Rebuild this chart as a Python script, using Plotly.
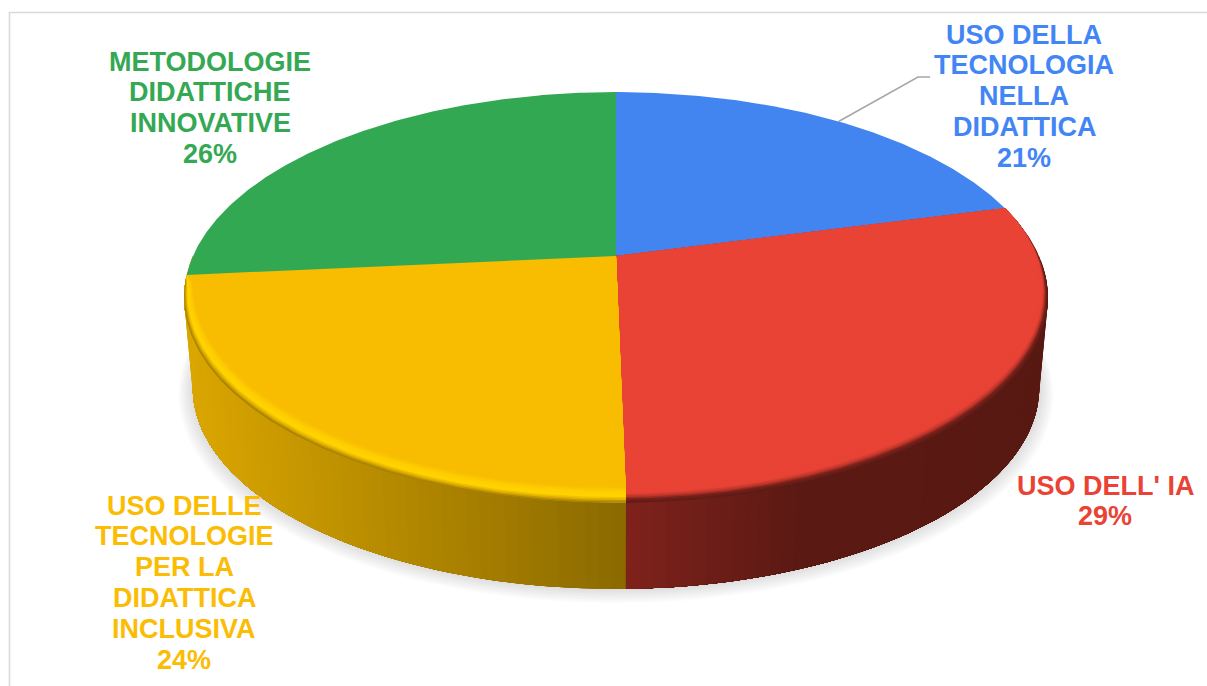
import numpy as np
import plotly.graph_objects as go

# --- data ---
categories = ["USO DELLA TECNOLOGIA NELLA DIDATTICA", "USO DELL' IA",
              "USO DELLE TECNOLOGIE PER LA DIDATTICA INCLUSIVA",
              "METODOLOGIE DIDATTICHE INNOVATIVE"]
values = [20.9, 28.8, 23.8, 26.5]
percent_labels = ["21%", "29%", "24%", "26%"]
label_lines = [["USO DELLA", "TECNOLOGIA", "NELLA", "DIDATTICA"],
               ["USO DELL' IA"],
               ["USO DELLE", "TECNOLOGIE", "PER LA", "DIDATTICA", "INCLUSIVA"],
               ["METODOLOGIE", "DIDATTICHE", "INNOVATIVE"]]
colors = ["#4285F0", "#E84335", "#F8BC00", "#32A852"]
text_colors = ["#4285F4", "#EA4335", "#FBBC04", "#34A853"]

# --- layout of the drawing ---
W, H = 1207, 686
CX, CY, A, B, K = 616.0, 256.0, 423.0, 197.0, -0.202
LOW_S, LOW_CY = 0.98, 347.0
LABEL_POS = [(1024, 44), (1105, 495), (184, 515), (210, 71)]  # centre x, first baseline y
LINE_H = 30.8
FONT = "Liberation Sans, Arial, sans-serif"
FONT_SIZE = 27


def project(theta_deg, r=1.0, s=1.0, cy=CY):
    t = np.radians(theta_deg)
    u, v = r * np.sin(t), -r * np.cos(t)
    d = 1 + K * v
    return CX + s * A * u / d, cy + s * B * v / d


def lerp_color(stops, x):
    xs = [p[0] for p in stops]
    return "rgb(%d,%d,%d)" % tuple(np.interp(x, xs, [p[1][i] for p in stops]) for i in range(3))


fig = go.Figure()


def poly(x, y, color):
    fig.add_trace(go.Scatter(x=list(x), y=list(y), mode="lines", fill="toself", fillcolor=color,
                             line=dict(width=0), hoverinfo="skip", showlegend=False))


# slice angle boundaries
frac = np.cumsum(values) / np.sum(values)
ends = 360 * frac
starts = np.concatenate([[0], ends[:-1]])

# soft shadow under the pie
full = np.linspace(0, 360, 241)
for t, g in zip(np.linspace(1, 0, 10), np.linspace(252, 220, 10)):
    x, y = project(full, s=LOW_S * (1 + 0.034 * t), cy=LOW_CY + 6 * t)
    poly(x, y, "rgb(%d,%d,%d)" % (g, g, g))

# side wall: each band runs on under the next, so no seams show
YELLOW_WALL = [(190, (218, 166, 0)), (625, (139, 106, 0))]
RED_WALL = [(625, (128, 34, 28)), (800, (92, 26, 20)), (1050, (88, 25, 18))]
for i, (a0, a1) in enumerate(zip(starts, ends)):
    lo, hi = max(a0, 90.0), min(a1, 270.0)
    if hi <= lo:
        continue
    n = int(np.ceil((hi - lo) / 1.5))
    edges = np.linspace(lo, hi, n + 1)
    stops = RED_WALL if i == 1 else YELLOW_WALL
    for e0, e1 in zip(edges[:-1], edges[1:]):
        th = np.linspace(e0, e1, 3)
        col = lerp_color(stops, project(th)[0].mean())
        th_far = np.linspace(e0, hi, max(3, int((hi - e0) / 2) + 2))
        xt, yt = project(th_far)
        xb, yb = project(th_far, s=LOW_S, cy=LOW_CY)
        poly(np.r_[xt, xb[::-1]], np.r_[yt, yb[::-1]], col)

# top surface with bevel on the front slices
BEVEL = {1: [(0.0, (96, 28, 22)), (0.18, (120, 32, 26)), (0.36, (190, 55, 44)), (0.55, (232, 67, 53)), (1.0, (232, 67, 53))],
         2: [(0.0, (168, 130, 0)), (0.18, (226, 176, 0)), (0.36, (255, 212, 0)), (0.65, (255, 206, 0)), (1.0, (248, 188, 0))]}
for i, (a0, a1) in enumerate(zip(starts, ends)):
    th = np.linspace(a0, a1, max(int(a1 - a0) * 2, 8) + 1)
    x, y = project(th)
    if i in BEVEL:
        rad = np.radians(th)
        u, v = np.sin(rad), -np.cos(rad)
        v_end = min(v[0], v[-1])
        w = np.sqrt(np.clip((v + 0.35) / 1.35, 0, 1)) * np.clip((v - v_end) / 0.08, 0, 1)
        for t in np.linspace(0, 1, 12):
            px = x - 14 * t * w * u
            py = y - 16 * t * w
            poly(np.r_[CX, px, CX], np.r_[CY, py, CY], lerp_color(BEVEL[i], t))
    else:
        poly(np.r_[CX, x, CX], np.r_[CY, y, CY], colors[i])

# leader line of the first label, from the middle of its slice
lead_x, lead_y = project(0.5 * (starts[0] + ends[0]))
fig.add_trace(go.Scatter(x=[lead_x, 918, 930], y=[lead_y, 77, 77], mode="lines",
                         line=dict(color="#A6A6A6", width=1.5), hoverinfo="skip", showlegend=False))

# labels, one real text per line
annotations = []
for i, lines in enumerate(label_lines):
    cx, y0 = LABEL_POS[i]
    for j, line in enumerate(list(lines) + [percent_labels[i]]):
        annotations.append(dict(x=cx, y=y0 + j * LINE_H - 9.5, text="<b>%s</b>" % line, showarrow=False,
                                xanchor="center", yanchor="middle", xref="x", yref="y",
                                font=dict(family=FONT, size=FONT_SIZE, color=text_colors[i])))

fig.update_layout(
    width=W, height=H, margin=dict(l=0, r=0, t=0, b=0),
    paper_bgcolor="white", plot_bgcolor="white", showlegend=False,
    xaxis=dict(range=[0, W], visible=False, fixedrange=True),
    yaxis=dict(range=[H, 0], visible=False, fixedrange=True),
    annotations=annotations,
    shapes=[dict(type="path", path="M 9.5 %d L 9.5 12.5 L %d 12.5" % (H, W), xref="x", yref="y",
                 line=dict(color="#D9D9D9", width=1.6))],
)
fig.write_html("out.html", config={"displayModeBar": False},
               post_script="document.body.style.margin='0';document.body.style.overflow='hidden';")
